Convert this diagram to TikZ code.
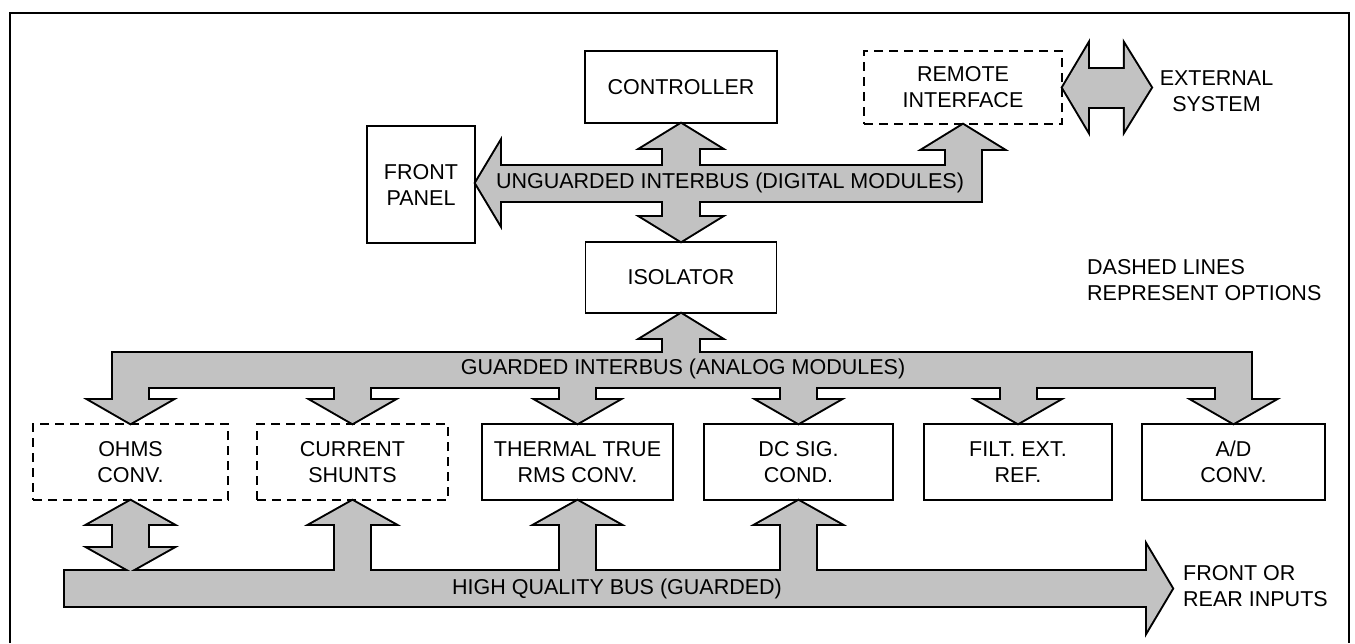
\documentclass[tikz,border=0pt]{standalone}
\usepackage{fontspec}
\setmainfont{Liberation Sans}
\usetikzlibrary{calc,backgrounds}

\tikzset{
  lbl/.style={font=\fontsize{21.5}{26}\selectfont, align=center, inner sep=0pt},
  box/.style={lbl, draw, line width=1.8pt},
  opt/.style={box, dash pattern=on 9pt off 6pt},
  busedge/.style={draw=black, line width=4pt, line join=miter},
  busfill/.style={fill=black!24},
}

% every bus piece is its own path; called once for the outline, once for the fill
\newcommand\drawbusparts[1]{%
  % unguarded interbus (digital side)
  \path[#1] (front.east |- ub) -- ++(24,-40) -- ++(0,80) -- cycle;
  \path[#1] ($(front.east |- ub)+(23,-17.5)$) rectangle ($(remote.south |- ub)+(17.5,17.5)$);
  \path[#1] ($(remote.south)+(-17.5,23)$) rectangle ($(remote.south |- ub)+(17.5,0)$);
  \path[#1] (remote.south) -- ++(-39,24) -- ++(78,0) -- cycle;
  \path[#1] ($(ctrl.south)+(-18,23)$) rectangle ($(iso.north)+(18,-23)$);
  \path[#1] (ctrl.south) -- ++(-39,24) -- ++(78,0) -- cycle;
  \path[#1] (iso.north) -- ++(-39,-24) -- ++(78,0) -- cycle;
  % link to the external system
  \path[#1] (remote.east) -- ++(25,-42) -- ++(0,84) -- cycle;
  \path[#1] ($(remote.east)+(24,-19)$) rectangle ($(remote.east)+(63,19)$);
  \path[#1] ($(remote.east)+(88,0)$) -- ++(-26,-42) -- ++(0,84) -- cycle;
  % guarded interbus (analog side)
  \path[#1] (iso.south) -- ++(-39,24) -- ++(78,0) -- cycle;
  \path[#1] ($(iso.south)+(-18,23)$) rectangle ($(iso.south |- gb)+(18,0)$);
  \path[#1] ($(ohms.north |- gb)+(-17.5,-17)$) rectangle ($(adc.north |- gb)+(17.5,17)$);
  \foreach \m in {ohms,shunts,thermal,dcsig,filt,adc}{
    \path[#1] ($(\m.north |- gb)+(-17.5,0)$) rectangle ($(\m.north)+(17.5,-22)$);
    \path[#1] (\m.north) -- ++(-40,-23) -- ++(80,0) -- cycle;
  }
  % high quality bus
  \path[#1] ($(hqL)+(0,-17.5)$) rectangle ($(hqR)+(-24,17.5)$);
  \path[#1] (hqR) -- ++(-25,-42) -- ++(0,84) -- cycle;
  \foreach \m in {shunts,thermal,dcsig}{
    \path[#1] ($(\m.south)+(-17.5,22)$) rectangle ($(\m.south |- hqL)+(17.5,0)$);
    \path[#1] (\m.south) -- ++(-41,23) -- ++(82,0) -- cycle;
  }
  % two-way link between the ohms converter and the bus
  \path[#1] ($(ohms.south)+(-17.5,22)$) rectangle ($(ohms.south)+(17.5,49)$);
  \path[#1] (ohms.south) -- ++(-41,23) -- ++(82,0) -- cycle;
  \path[#1] ($(ohms.south |- hqL)+(0,-17.5)$) -- ++(-41,-23) -- ++(82,0) -- cycle;
}

\begin{document}
\begin{tikzpicture}[x=1pt,y=-1pt]
  \useasboundingbox (0,0) rectangle (1355,643);

  % outer frame, open at the bottom
  \draw[line width=1.5pt] (10,643) -- (10,13) -- (1349,13) -- (1349,643);

  % bus centre lines
  \coordinate (ub) at (0,183);
  \coordinate (gb) at (0,369.5);
  \coordinate (hqL) at (65,588.5);
  \coordinate (hqR) at (1172,588.5);

  % digital modules
  \node[box, minimum width=192, minimum height=72] (ctrl) at (681,87) {CONTROLLER};
  \node[opt, minimum width=198, minimum height=73] (remote) at (963,87.5) {REMOTE\\INTERFACE};
  \node[box, minimum width=108, minimum height=117] (front) at (421,184.5) {FRONT\\PANEL};
  \node[box, minimum width=191, minimum height=71] (iso) at (681,277.5) {ISOLATOR};

  % analog modules
  \node[opt, minimum width=195, minimum height=76] (ohms) at (130.5,462) {OHMS\\CONV.};
  \node[opt, minimum width=191, minimum height=76] (shunts) at (352.5,462) {CURRENT\\SHUNTS};
  \node[box, minimum width=191, minimum height=76] (thermal) at (577.5,462) {THERMAL TRUE\\RMS CONV.};
  \node[box, minimum width=189, minimum height=76] (dcsig) at (798.5,462) {DC SIG.\\COND.};
  \node[box, minimum width=188, minimum height=76] (filt) at (1018,462) {FILT. EXT.\\REF.};
  \node[box, minimum width=183, minimum height=76] (adc) at (1233.5,462) {A/D\\CONV.};

  % free labels
  \node[lbl] (ext) at (1216.5,91) {EXTERNAL\\SYSTEM};
  \node[lbl, anchor=west, align=left] (note) at (1087,280) {DASHED LINES\\REPRESENT OPTIONS};
  \node[lbl, anchor=west, align=left] (inputs) at (1183,586) {FRONT OR\\REAR INPUTS};

  % bus names
  \node[lbl] (ublabel) at (730,183) {UNGUARDED INTERBUS (DIGITAL MODULES)};
  \node[lbl] (gblabel) at (683,369) {GUARDED INTERBUS (ANALOG MODULES)};
  \node[lbl] (hqlabel) at (617,589) {HIGH QUALITY BUS (GUARDED)};

  % buses: thick outline first, then the fill hides the inner half
  \begin{pgfonlayer}{background}
    \drawbusparts{busedge}
    \drawbusparts{busfill}
  \end{pgfonlayer}
\end{tikzpicture}
\end{document}
